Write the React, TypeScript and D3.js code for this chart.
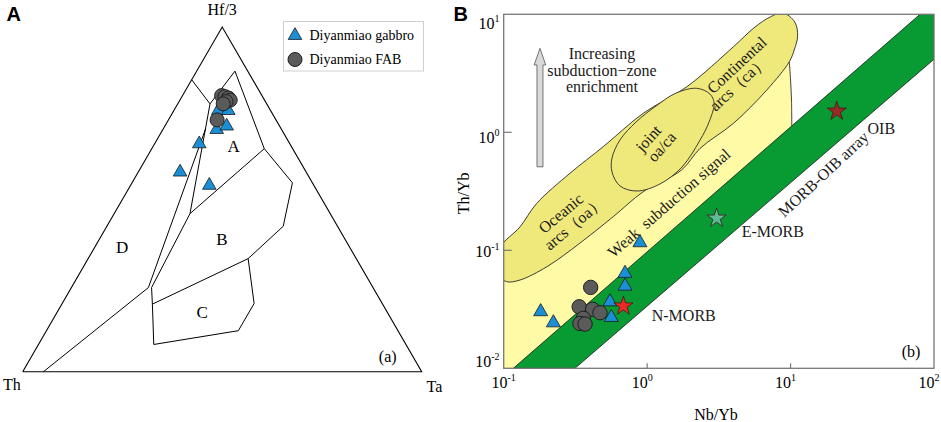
import React from 'react';
import * as d3 from 'd3';

const W = 941;
const H = 422;
const serif = '"Liberation Serif", "Times New Roman", serif';
const sans = '"Liberation Sans", Arial, sans-serif';

// ---------------- Panel A : Th - Hf/3 - Ta ----------------
// compositions as [Th, Hf/3, Ta] in %
const ternaryCorners = [[100, 0, 0], [0, 100, 0], [0, 0, 100]];
const ternaryCornerLabels = ['Th', 'Hf/3', 'Ta'];
const gabbroTernary = [
  [13.1, 75.75, 11.15],
  [10.6, 75.75, 13.65],
  [16.25, 70.25, 13.5],
  [13.25, 71.25, 15.5],
  [22.7, 66.1, 11.2],
  [31.6, 57.9, 10.5],
  [26.2, 54.05, 19.75],
];
const fabTernary = [
  [10.1, 80.1, 9.8],
  [9.4, 79.8, 10.8],
  [8.75, 79.4, 11.85],
  [8.6, 78.8, 12.6],
  [9.85, 78.35, 11.8],
  [10.9, 77.7, 11.4],
  [14.75, 73.05, 12.2],
];
const fieldLineTop = [[15.3, 84.7, 0], [14.2, 77.7, 8.1]];
const fieldA = [[14.2, 77.7, 8.1], [3.2, 87.2, 9.6], [7.1, 64.7, 28.2], [35.15, 45.85, 19.0], [14.2, 77.7, 8.1]];
const fieldB = [[7.1, 64.7, 28.2], [5.0, 54.8, 40.2], [13.6, 42.2, 44.2], [27.1, 32.8, 40.1], [57.7, 19.6, 22.7], [55.5, 24.4, 20.1], [35.15, 45.85, 19.0]];
const fieldC = [[57.7, 19.6, 22.7], [63.2, 7.9, 28.9], [40.0, 11.9, 48.1], [32.1, 19.8, 48.1], [27.1, 32.8, 40.1]];
const fieldD = [[18.9, 70.5, 10.6], [56.3, 24.4, 19.3], [94.8, 0, 5.2]];
const fieldLabels = ['A', 'B', 'C', 'D'];
const fieldLabelPos = [[14.5, 65.3, 20.2], [30.9, 38.3, 30.8], [46.4, 17.3, 36.3], [57.1, 35.9, 7.0]];
const legendLabels = ['Diyanmiao gabbro', 'Diyanmiao FAB'];

// ---------------- Panel B : Nb/Yb vs Th/Yb ----------------
const xTickValues = [0.1, 1, 10, 100];
const xTickExps = ['-1', '0', '1', '2'];
const yTickValues = [0.01, 0.1, 1, 10];
const yTickExps = ['-2', '-1', '0', '1'];

const gabbroNbYb = [0.181, 0.222, 0.891, 0.701, 0.701, 0.551, 0.562];
const gabbroThYb = [0.0302, 0.0243, 0.116, 0.0638, 0.0497, 0.0366, 0.027];
const fabNbYb = [0.404, 0.336, 0.417, 0.469, 0.359, 0.34, 0.369];
const fabThYb = [0.0485, 0.0332, 0.0316, 0.0296, 0.0265, 0.024, 0.0237];

const refNames = ['N-MORB', 'E-MORB', 'OIB'];
const refNbYb = [0.683, 3.05, 21.0];
const refThYb = [0.0337, 0.187, 1.51];
const refColors = ['#ee2a24', '#5fbb95', '#9c2a24'];
const refLabelNbYb = [1.8, 7.52, 42.9];
const refLabelThYb = [0.028, 0.143, 1.077];

// MORB-OIB array (band)
const morbOibBand = [[0.1167, 0.01], [79.9, 10], [100, 10], [100, 4.16], [0.314, 0.01]];
// weak subduction (light yellow) field
const weakField = [[0.1, 0.01], [0.1167, 0.01], [10.2, 1.134], [10.15, 1.88], [10.0, 2.77], [9.8, 3.96], [6, 4], [0.94, 0.8], [0.2, 0.15], [0.095, 0.08]];
const weakFieldEdge = [[10.2, 1.134], [10.15, 1.88], [10.0, 2.77], [9.8, 3.96]];
// arcs field outline (oceanic + continental)
const arcField = [
  [0.095, 0.105], [0.13, 0.158], [0.17, 0.25], [0.29, 0.45], [0.494, 0.755], [0.94, 1.45],
  [1.89, 2.43], [3.99, 5.3], [5.65, 7.8], [7.2, 9.48], [8.85, 10.26], [10.7, 8.6], [11.2, 6.55],
  [10.6, 4.98], [9.8, 3.96], [6.82, 2.28], [3.99, 1.19], [2.34, 0.731], [1.74, 0.48], [0.94, 0.314],
  [0.581, 0.193], [0.34, 0.115], [0.2, 0.0726], [0.13, 0.056], [0.105, 0.0542], [0.095, 0.06],
];
// joint oa/ca field
const jointField = [
  [2.22, 2.36], [2.74, 2.11], [2.93, 1.77], [2.7, 1.22], [2.34, 0.86], [1.75, 0.508], [1.23, 0.365],
  [0.85, 0.318], [0.647, 0.351], [0.569, 0.461], [0.569, 0.605], [0.647, 0.861], [0.836, 1.22],
  [1.153, 1.67], [1.59, 2.15],
];
// "increasing subduction-zone enrichment" arrow: [Nb/Yb, tail Th/Yb, head-base Th/Yb, tip Th/Yb]
const arrowSpec = [0.179, 0.51, 3.72, 5.15];
const enrichmentText = ['Increasing', 'subduction\u2212zone', 'enrichment'];

export default function App() {
  // ---- Panel A scales (ternary projection) ----
  const tx = d3.scaleLinear().domain([0, 100]).range([22.7, 421.7]);
  const ty = d3.scaleLinear().domain([0, 100]).range([371.7, 27]);
  const proj = (c: number[]): [number, number] => [tx(c[2] + c[1] / 2), ty(c[1])];
  const tLine = d3.line<number[]>().x((d) => proj(d)[0]).y((d) => proj(d)[1]);

  const triSym = d3.symbol().type(d3.symbolTriangle).size(80)() as string;
  const circA = d3.symbol().type(d3.symbolCircle).size(Math.PI * 7 * 7)() as string;
  const triSymB = d3.symbol().type(d3.symbolTriangle).size(85)() as string;
  const circB = d3.symbol().type(d3.symbolCircle).size(Math.PI * 7.2 * 7.2)() as string;
  const starSym = d3.symbol().type(d3.symbolStar).size(115)() as string;

  // ---- Panel B scales ----
  const xB = d3.scaleLog().domain([0.1, 100]).range([503.7, 934]);
  const yB = d3.scaleLog().domain([0.01, 10]).range([368.3, 14.3]);
  const bLine = d3.line<number[]>().x((d) => xB(d[0])).y((d) => yB(d[1]));
  const bClosed = d3.line<number[]>().x((d) => xB(d[0])).y((d) => yB(d[1])).curve(d3.curveCatmullRomClosed.alpha(0.5));
  const bOpen = d3.line<number[]>().x((d) => xB(d[0])).y((d) => yB(d[1])).curve(d3.curveCatmullRom.alpha(0.5));
  const [x0, x1] = xB.range();
  const [y0, y1] = yB.range();

  const ax = xB(arrowSpec[0]);
  const arrowPath = `M${ax - 3},${yB(arrowSpec[1])} L${ax + 3},${yB(arrowSpec[1])} L${ax + 3},${yB(arrowSpec[2])} L${ax + 5.8},${yB(arrowSpec[2])} L${ax},${yB(arrowSpec[3])} L${ax - 5.8},${yB(arrowSpec[2])} L${ax - 3},${yB(arrowSpec[2])} Z`;

  const yLabelShift = [-1.6, 6.7, 10.7, 15];

  return (
    <svg width={W} height={H} style={{ position: 'absolute', left: 0, top: 0, background: '#fff' }} fontFamily={serif}>
      <defs>
        <clipPath id="clipB">
          <rect x={x0} y={y1} width={x1 - x0} height={y0 - y1} />
        </clipPath>
      </defs>

      {/* ================= Panel A ================= */}
      <text x={6.5} y={20.7} fontFamily={sans} fontWeight="bold" fontSize={20}>A</text>
      <path d={tLine([...ternaryCorners, ternaryCorners[0]]) as string} fill="none" stroke="#000" strokeWidth={1.1} />
      <g fill="none" stroke="#000" strokeWidth={1}>
        <path d={tLine(fieldLineTop) as string} />
        <path d={tLine(fieldA) as string} />
        <path d={tLine(fieldB) as string} />
        <path d={tLine(fieldC) as string} />
        <path d={tLine(fieldD) as string} />
      </g>
      {fieldLabels.map((l, i) => {
        const [px, py] = proj(fieldLabelPos[i]);
        return (
          <text key={l} x={px} y={py} textAnchor="middle" dominantBaseline="central" fontSize={17}>{l}</text>
        );
      })}
      <text x={proj(ternaryCorners[1])[0]} y={14.5} textAnchor="middle" fontSize={16}>{ternaryCornerLabels[1]}</text>
      <text x={3} y={390} fontSize={16}>{ternaryCornerLabels[0]}</text>
      <text x={426.5} y={391.5} fontSize={16}>{ternaryCornerLabels[2]}</text>
      <text x={387.7} y={362} textAnchor="middle" fontSize={16}>(a)</text>

      {gabbroTernary.map((c, i) => {
        const [px, py] = proj(c);
        return <path key={'ga' + i} d={triSym} transform={`translate(${px},${py})`} fill="#1b8fd6" stroke="#1a1a1a" strokeWidth={0.8} />;
      })}
      {fabTernary.map((c, i) => {
        const [px, py] = proj(c);
        return <path key={'fa' + i} d={circA} transform={`translate(${px},${py})`} fill="#5b5b5b" stroke="#1e1e1e" strokeWidth={1} />;
      })}

      {/* legend */}
      <rect x={283.5} y={21.5} width={140} height={49.5} fill="#fff" stroke="#cfcfcf" strokeWidth={1} />
      <path d={triSym} transform="translate(295,35.5)" fill="#1b8fd6" stroke="#1a1a1a" strokeWidth={0.8} />
      <path d={circA} transform="translate(295,59.5)" fill="#5b5b5b" stroke="#1e1e1e" strokeWidth={1} />
      <text x={309.5} y={39.5} fontSize={14}>{legendLabels[0]}</text>
      <text x={309.5} y={64} fontSize={14}>{legendLabels[1]}</text>

      {/* ================= Panel B ================= */}
      <text x={453.5} y={20.7} fontFamily={sans} fontWeight="bold" fontSize={20}>B</text>
      <g clipPath="url(#clipB)">
        <path d={bLine(weakField) + 'Z'} fill="#fefaa6" stroke="none" />
        <path d={bClosed(arcField) as string} fill="#efe87b" stroke="#2a2a2a" strokeWidth={0.9} />
        <path d={bOpen(weakFieldEdge) as string} fill="none" stroke="#2a2a2a" strokeWidth={0.9} />
        <path d={bClosed(jointField) as string} fill="#efe87b" stroke="#2a2a2a" strokeWidth={0.9} />
        <path d={bLine(morbOibBand) + 'Z'} fill="#089b33" stroke="#1a1a1a" strokeWidth={0.8} />
      </g>
      <path d={arrowPath} fill="#d9d9d9" stroke="#555" strokeWidth={0.8} />
      <g fontSize={16} textAnchor="middle" fill="#1a1a1a">
        {enrichmentText.map((t, i) => (
          <text key={t} x={xB(arrowSpec[0]) + 62} y={59.3 + i * 16.2}>{t}</text>
        ))}
      </g>

      {/* frame */}
      <rect x={x0} y={y1} width={x1 - x0} height={y0 - y1} fill="none" stroke="#777" strokeWidth={1.3} />
      {xTickValues.slice(1, 3).map((v) => (
        <line key={'xt' + v} x1={xB(v)} x2={xB(v)} y1={y0} y2={y0 - 5} stroke="#777" strokeWidth={1.2} />
      ))}
      {yTickValues.slice(1, 3).map((v) => (
        <line key={'yt' + v} x1={x0} x2={x0 + 8} y1={yB(v)} y2={yB(v)} stroke="#777" strokeWidth={1.2} />
      ))}
      {xTickValues.map((v, i) => (
        <text key={'xl' + v} x={xB(v) + (i === 0 ? 0 : -5)} y={388.3} textAnchor="middle" fontSize={16}>
          10<tspan dy={-7} fontSize={10}>{xTickExps[i]}</tspan>
        </text>
      ))}
      {yTickValues.map((v, i) => (
        <text key={'yl' + v} x={499.5} y={yB(v) + yLabelShift[i]} textAnchor="end" fontSize={16}>
          10<tspan dy={-7} fontSize={10}>{yTickExps[i]}</tspan>
        </text>
      ))}
      <text x={716} y={420} textAnchor="middle" fontSize={16}>Nb/Yb</text>
      <text transform="translate(469,193.3) rotate(-90)" textAnchor="middle" fontSize={16}>Th/Yb</text>

      {/* field labels */}
      <g fontSize={16} fill="#1a1a1a" textAnchor="middle" dominantBaseline="central">
        <text transform={`translate(${xB(0.25)},${yB(0.206)}) rotate(-40)`}>Oceanic</text>
        <text transform={`translate(${xB(0.31)},${yB(0.169)}) rotate(-40)`}>arcs（oa）</text>
        <text transform={`translate(${xB(1.02)},${yB(0.889)}) rotate(-48)`}>joint</text>
        <text transform={`translate(${xB(1.264)},${yB(0.755)}) rotate(-48)`}>oa/ca</text>
        <text transform={`translate(${xB(4.21)},${yB(3.72)}) rotate(-43)`}>Continental</text>
        <text transform={`translate(${xB(4.32)},${yB(2.6)}) rotate(-43)`}>arcs（ca）</text>
        <text transform={`translate(${xB(1.42)},${yB(0.252)}) rotate(-41)`} style={{ whiteSpace: 'pre' }}>{'Weak  subduction signal'}</text>
        <text transform={`translate(${xB(16.9)},${yB(0.442)}) rotate(-43)`}>MORB-OIB array</text>
      </g>
      {refNames.map((n, i) => (
        <text key={n} x={xB(refLabelNbYb[i])} y={yB(refLabelThYb[i])} textAnchor="middle" dominantBaseline="central" fontSize={16} fill="#1a1a1a">{n}</text>
      ))}
      <text x={911} y={357} textAnchor="middle" fontSize={16}>(b)</text>

      {/* samples */}
      <g clipPath="url(#clipB)">
        {fabNbYb.map((v, i) => (
          <path key={'fb' + i} d={circB} transform={`translate(${xB(v)},${yB(fabThYb[i])})`} fill="#5b5b5b" stroke="#1e1e1e" strokeWidth={1} />
        ))}
        {gabbroNbYb.map((v, i) => (
          <path key={'gb' + i} d={triSymB} transform={`translate(${xB(v)},${yB(gabbroThYb[i])})`} fill="#1b8fd6" stroke="#1a1a1a" strokeWidth={0.8} />
        ))}
        {refNbYb.map((v, i) => (
          <path key={'rs' + i} d={starSym} transform={`translate(${xB(v)},${yB(refThYb[i])})`} fill={refColors[i]} stroke="#3a1a1a" strokeWidth={0.8} />
        ))}
      </g>
    </svg>
  );
}
